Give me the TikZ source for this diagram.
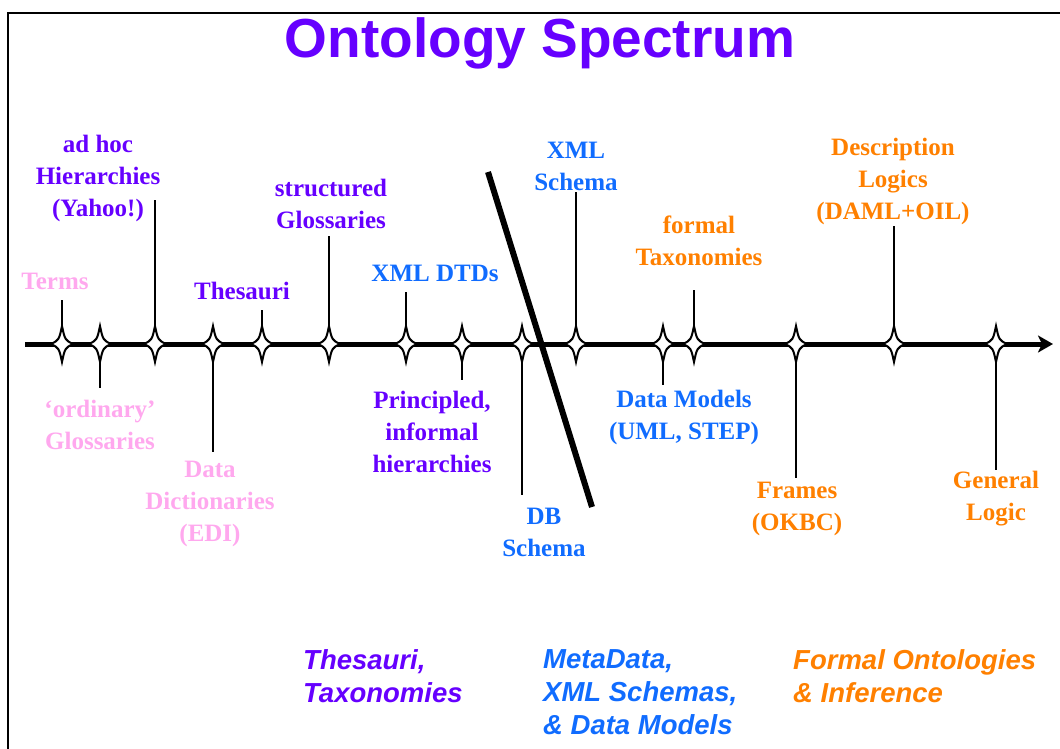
\documentclass[tikz,border=0pt]{standalone}
\usepackage{fontspec}
\setmainfont{Liberation Serif}
\setsansfont{Liberation Sans}
\usetikzlibrary{arrows.meta}
\definecolor{ospink}{RGB}{255,168,238}
\definecolor{ospurple}{RGB}{102,0,255}
\definecolor{osblue}{RGB}{16,108,255}
\definecolor{osorange}{RGB}{255,128,0}
\tikzset{
  lbl/.style={align=center, inner sep=0pt, font=\bfseries\fontsize{25}{32}\selectfont},
  cat/.style={align=left, anchor=north west, inner sep=0pt, font=\sffamily\bfseries\itshape\fontsize{27.5}{33}\selectfont},
  stem/.style={line width=2pt, black},
  sparkle/.pic={\draw[line width=2pt, fill=white, line join=miter, miter limit=20]
     (0,-18) .. controls (3,-4) .. (11,0) .. controls (3,4) .. (0,18)
     .. controls (-3,4) .. (-11,0) .. controls (-3,-4) .. (0,-18) -- cycle;}
}
\begin{document}
\begin{tikzpicture}[x=1pt,y=-1pt]
\useasboundingbox (0,0) rectangle (1060,749);
% frame
\coordinate (fb) at (8,749);
\coordinate (ftl) at (8,13);
\coordinate (ftr) at (1060,13);
\draw[line width=2pt] (fb) -- (ftl) -- (ftr);
% title
\node[font=\sffamily\bfseries\fontsize{55}{60}\selectfont, text=ospurple] (title) at (540,43) {Ontology Spectrum};
% axis
\coordinate (a0) at (25,344);
\coordinate (a1) at (1053,344);
\draw[line width=5pt, -{Stealth[length=15pt,width=17pt,inset=4pt]}] (a0) -- (a1);
% diagonal divider
\coordinate (d1) at (488,172);
\coordinate (d2) at (592,507);
\draw[line width=6pt] (d1) -- (d2);
% star positions and stem ends
\foreach \n/\x/\y in {terms/62/300, ordin/100/388, adhoc/155/200, datad/213/452, thes/262/310,
  struct/329/236, dtd/406/292, princ/462/380, db/522/495, xsch/576/192, dm/663/385,
  ftax/694/290, frames/796/478, dl/894/226, gl/996/470}{
  \coordinate (s-\n) at (\x,344);
  \coordinate (e-\n) at (\x,\y);
  \draw[stem] (s-\n) -- (e-\n);
}
\foreach \n in {terms, ordin, adhoc, datad, thes, struct, dtd, princ, db, xsch, dm, ftax, frames, dl, gl}{
  \pic at (s-\n) {sparkle};
}
% labels
\node[lbl, text=ospink] (l-terms) at (55,281) {Terms};
\node[lbl, text=ospink] (l-ordin) at (100,425) {`ordinary'\\Glossaries};
\node[lbl, text=ospurple] (l-adhoc) at (98,178) {ad hoc\\Hierarchies\\(Yahoo!)};
\node[lbl, text=ospink] (l-datad) at (210,504) {Data\\Dictionaries\\(EDI)};
\node[lbl, text=ospurple] (l-thes) at (242,291) {Thesauri};
\node[lbl, text=ospurple] (l-struct) at (331,203.5) {structured\\Glossaries};
\node[lbl, text=osblue] (l-dtd) at (435,273) {XML DTDs};
\node[lbl, text=ospurple] (l-princ) at (432,432) {Principled,\\informal\\hierarchies};
\node[lbl, text=osblue] (l-db) at (544,532) {DB\\Schema};
\node[lbl, text=osblue] (l-xsch) at (576,166) {XML\\Schema};
\node[lbl, text=osblue] (l-dm) at (684,417) {Data Models\\(UML, STEP)};
\node[lbl, text=osorange] (l-ftax) at (699,241) {formal\\Taxonomies};
\node[lbl, text=osorange] (l-frames) at (797,508.5) {Frames\\(OKBC)};
\node[lbl, text=osorange] (l-dl) at (893,181) {Description\\Logics\\(DAML+OIL)};
\node[lbl, text=osorange] (l-gl) at (996,499) {General\\Logic};
% categories
\node[cat, text=ospurple] (c1) at (303,649) {Thesauri,\\Taxonomies};
\node[cat, text=osblue] (c2) at (543,649) {MetaData,\\XML Schemas,\\\& Data Models};
\node[cat, text=osorange] (c3) at (793,649) {Formal Ontologies\\\& Inference};
\end{tikzpicture}
\end{document}
